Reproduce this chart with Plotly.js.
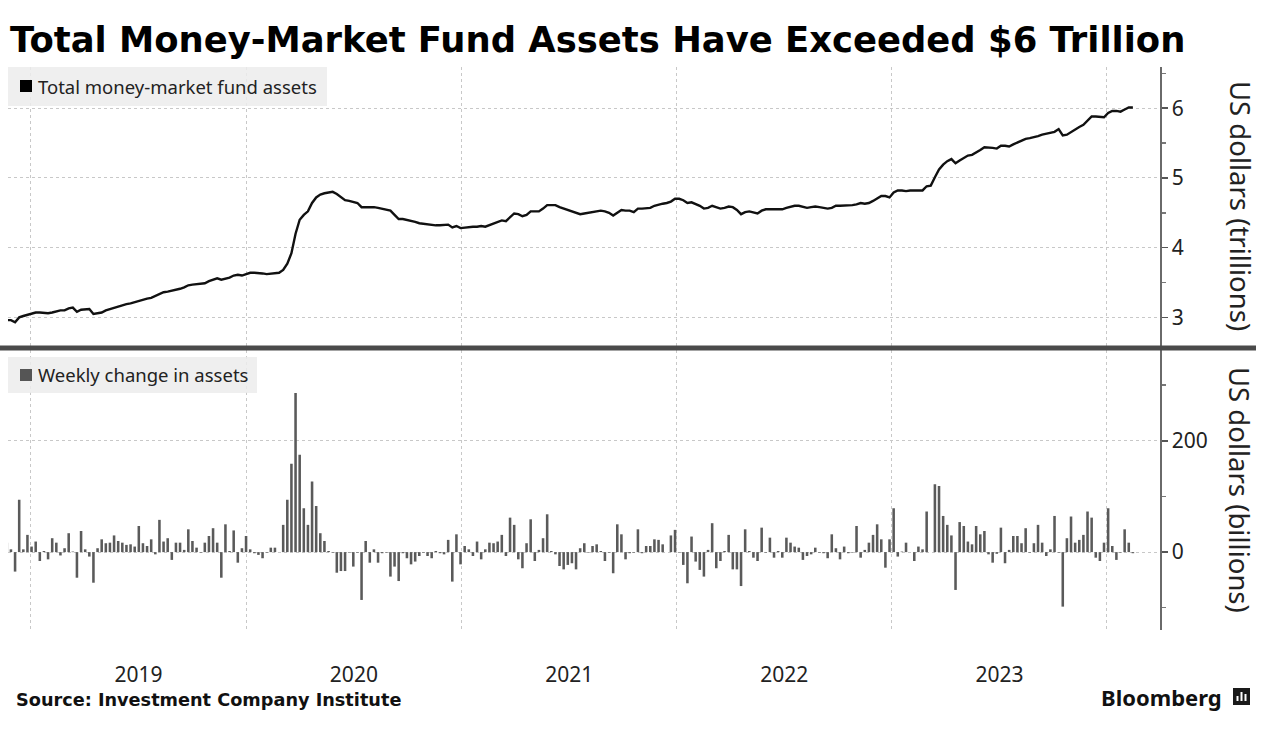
<!DOCTYPE html>
<html>
<head>
<meta charset="utf-8">
<script src="https://cdn.plot.ly/plotly-3.0.1.min.js"></script>
<style>
html,body{margin:0;padding:0;background:#ffffff;}
#chart{width:1287px;height:743px;}
</style>
</head>
<body>
<div id="chart"></div>
<script>
// ---------------- DATA ----------------
// Weekly observations (ICI, weeks ending Wednesday), first week:
const firstWeek = '2018-11-21';

// Total money-market fund assets, US$ trillions (one value per week)
const assets = [
  2.96, 2.96, 2.93, 3.00, 3.02, 3.04, 3.05, 3.07, 3.07, 3.06,
  3.06, 3.07, 3.09, 3.10, 3.10, 3.13, 3.14, 3.08, 3.11, 3.12,
  3.12, 3.05, 3.06, 3.07, 3.10, 3.12, 3.14, 3.16, 3.17, 3.19,
  3.20, 3.22, 3.24, 3.26, 3.27, 3.28, 3.31, 3.34, 3.36, 3.37,
  3.38, 3.40, 3.41, 3.43, 3.46, 3.47, 3.48, 3.48, 3.49, 3.52,
  3.54, 3.56, 3.54, 3.55, 3.57, 3.60, 3.61, 3.60, 3.62, 3.64,
  3.64, 3.64, 3.63, 3.62, 3.63, 3.63, 3.64, 3.68, 3.77, 3.92,
  4.20, 4.40, 4.47, 4.52, 4.64, 4.72, 4.76, 4.78, 4.79,
  4.80, 4.77, 4.72, 4.68, 4.67, 4.66, 4.64, 4.58, 4.58, 4.59,
  4.58, 4.57, 4.56, 4.55, 4.53, 4.47, 4.41, 4.41, 4.40, 4.38,
  4.37, 4.35, 4.34, 4.33, 4.32, 4.32, 4.32, 4.32, 4.33, 4.29,
  4.31, 4.28, 4.29, 4.29, 4.30, 4.30, 4.31, 4.30, 4.32, 4.34,
  4.36, 4.39, 4.38, 4.44, 4.49, 4.48, 4.45, 4.47, 4.52, 4.52,
  4.52, 4.56, 4.61, 4.61, 4.61, 4.58, 4.56, 4.54, 4.52, 4.49,
  4.48, 4.49, 4.50, 4.51, 4.52, 4.53, 4.52, 4.50, 4.46, 4.50,
  4.54, 4.53, 4.53, 4.51, 4.56, 4.56, 4.57, 4.57, 4.60, 4.62,
  4.63, 4.64, 4.66, 4.70, 4.70, 4.68, 4.64, 4.65, 4.63, 4.60,
  4.56, 4.57, 4.60, 4.58, 4.56, 4.57,
  4.59, 4.58, 4.54, 4.48, 4.51, 4.52, 4.51, 4.49, 4.53, 4.55,
  4.55, 4.55, 4.55, 4.55, 4.57, 4.59, 4.60, 4.60, 4.59, 4.57,
  4.58, 4.59, 4.58, 4.57, 4.56, 4.57, 4.60, 4.60, 4.60, 4.60,
  4.61, 4.62, 4.64, 4.63, 4.64, 4.67, 4.71, 4.74, 4.74, 4.72,
  4.79, 4.82, 4.82, 4.81, 4.82, 4.82, 4.82, 4.82, 4.88, 4.89,
  5.01, 5.12, 5.19, 5.24, 5.27, 5.21, 5.25, 5.29, 5.32, 5.33,
  5.36, 5.40, 5.44, 5.44, 5.43, 5.42, 5.46, 5.46, 5.45, 5.48,
  5.51, 5.53, 5.56, 5.57, 5.58, 5.60, 5.62, 5.63, 5.64, 5.66,
  5.70, 5.61, 5.62, 5.66, 5.70, 5.73, 5.76, 5.82, 5.88, 5.88,
  5.87, 5.87, 5.93, 5.96, 5.96, 5.95, 5.98, 6.01, 6.01
];

// Weekly change in assets, US$ billions (one value per week)
const weeklyChange = [
  17, 5, -35, 94, 5, 31, 10, 19, -16, 2,
  -13, 25, 17, -6, 7, 34, 1, -46, 38, 5,
  -8, -55, 7, 23, 16, 17, 30, 20, 17, 13,
  14, 10, 47, 16, 11, 23, -4, 58, 19, 25,
  -14, 17, 17, 4, 41, 20, 8, -1, 17, 29,
  43, 17, -46, 50, 2, 39, -19, 7, 29, 5,
  -2, -5, -11, -1, 8, 8, 0, 49, 94, 159,
  286, 175, 79, 49, 127, 83, 34, 20, 2, -1,
  -37, -34, -34, -1, -26, -1, -86, 20, -19, 5,
  -19, -2, -1, -44, -26, -52, -2, -11, -22, -17,
  -7, -1, -7, -11, 2, -2, -4, 22, -53, 32,
  -22, 11, 5, -7, 19, -13, 5, 17, 16, 19,
  31, -7, 62, 49, -13, -29, 16, 59, -16, 4,
  25, 68, 2, -4, -25, -31, -23, -20, -31, 7,
  16, -1, 11, 14, 2, -16, -1, -38, 50, 32,
  -13, -2, -1, 41, -2, 11, 11, 23, 22, 14,
  0, 30, 40, -1, -23, -56, 28, -17, -32, -44,
  4, 52, -29, -16, 2, 31, -31, -31, -61, 41,
  2, -10, -16, 44, -1, 26, -10, 2, -10, 26,
  17, 10, 8, -14, -7, -4, 8, -1, -2, -11,
  32, 7, -13, 10, -2, -1, 47, -10, 4, 17,
  31, 50, 23, -28, 23, 79, -8, 1, 17, 0,
  -16, 10, 5, 73, 0, 122, 119, 65, 49, 30,
  -68, 54, 47, 19, 14, 47, 32, 38, -4, -19,
  -3, 44, -20, 4, 29, 29, 16, 43, -1, 16,
  49, 17, -7, 5, 65, -1, -98, 25, 64, 17,
  22, 31, 73, 62, -10, -16, 17, 79, 11, -14,
  -1, 41, 17, -2
];

const topTicks = [3, 4, 5, 6];
const bottomTicks = [0, 200];
const seriesNames = ['Total money-market fund assets', 'Weekly change in assets'];
const titleText = 'Total Money-Market Fund Assets Have Exceeded $6 Trillion';
const sourceText = 'Source: Investment Company Institute';
const topAxisTitle = 'US dollars (trillions)';
const bottomAxisTitle = 'US dollars (billions)';

// weekly date labels for the category positions
const weekDates = assets.map((_, i) => {
  const d = new Date(Date.parse(firstWeek + 'T00:00:00Z') + i * 7 * 86400000);
  return d.toISOString().slice(0, 10);
});

// ---------------- LAYOUT HELPERS ----------------
const W = 1287, H = 743;
const M = {l: 8, r: 127, t: 67, b: 113};
const PW = W - M.l - M.r, PH = H - M.t - M.b;
const px = x => (x - M.l) / PW;
const py = y => (H - M.b - y) / PH;

const tickFont = {family: 'Noto Sans, Open Sans, sans-serif', size: 21, color: '#222'};
const gridColor = '#c8c8c8';

const traces = [
  {
    type: 'scatter', mode: 'lines', x: weekDates, y: assets,
    xaxis: 'x', yaxis: 'y', name: seriesNames[0],
    line: {color: '#111', width: 2.4}, hoverinfo: 'skip'
  },
  {
    type: 'bar', x: weekDates, y: weeklyChange,
    xaxis: 'x2', yaxis: 'y2', name: seriesNames[1],
    marker: {color: '#5a5a5a', line: {width: 0}}, hoverinfo: 'skip'
  }
];

const xRange = ['2018-11-23', '2024-03-31'];
const xCommon = {
  type: 'date', range: xRange, showgrid: true, gridcolor: gridColor, griddash: 'dot', gridwidth: 1,
  dtick: 'M12', tick0: '2019-01-01', zeroline: false, showline: false, fixedrange: true
};

const layout = {
  width: W, height: H, margin: M,
  paper_bgcolor: '#ffffff', plot_bgcolor: 'rgba(0,0,0,0)',
  showlegend: false, bargap: 0.38,
  font: {family: 'Noto Sans, sans-serif', color: '#222'},
  xaxis: Object.assign({}, xCommon, {anchor: 'y', showticklabels: false, ticks: ''}),
  xaxis2: Object.assign({}, xCommon, {
    anchor: 'y2', matches: 'x', showticklabels: true, ticklabelmode: 'period', tickformat: '%Y',
    ticks: 'outside', ticklen: 26, tickcolor: 'rgba(0,0,0,0)', tickfont: tickFont
  }),
  yaxis: {
    domain: [0.502, 1], side: 'right', anchor: 'x', range: [2.57, 6.59],
    tickvals: topTicks, ticktext: topTicks.map(String),
    showgrid: true, gridcolor: gridColor, griddash: 'dot', zeroline: false,
    showline: true, linecolor: '#6a6a6a', linewidth: 1.5,
    ticks: 'outside', ticklen: 6, tickcolor: '#555', tickwidth: 1.5, tickfont: tickFont,
    minor: {dtick: 0.5, tick0: 0, ticks: 'outside', ticklen: 4, tickcolor: '#777', showgrid: false},
    fixedrange: true
  },
  yaxis2: {
    domain: [0, 0.498], side: 'right', anchor: 'x2', range: [-140, 364],
    tickvals: bottomTicks, ticktext: bottomTicks.map(String),
    showgrid: true, gridcolor: gridColor, griddash: 'dot', zeroline: false,
    showline: true, linecolor: '#6a6a6a', linewidth: 1.5,
    ticks: 'outside', ticklen: 6, tickcolor: '#555', tickwidth: 1.5, tickfont: tickFont,
    minor: {dtick: 100, tick0: 0, ticks: 'outside', ticklen: 4, tickcolor: '#777', showgrid: false},
    fixedrange: true
  },
  shapes: [
    // legend boxes
    {type: 'rect', xref: 'paper', yref: 'paper', x0: px(8), x1: px(327), y0: py(106), y1: py(67),
     fillcolor: 'rgba(236,236,236,0.85)', line: {width: 0}, layer: 'above'},
    {type: 'rect', xref: 'paper', yref: 'paper', x0: px(20), x1: px(32), y0: py(92), y1: py(80),
     fillcolor: '#000', line: {width: 0}, layer: 'above'},
    {type: 'rect', xref: 'paper', yref: 'paper', x0: px(8), x1: px(257), y0: py(393), y1: py(357),
     fillcolor: 'rgba(236,236,236,0.85)', line: {width: 0}, layer: 'above'},
    {type: 'rect', xref: 'paper', yref: 'paper', x0: px(20), x1: px(32), y0: py(381), y1: py(369),
     fillcolor: '#555', line: {width: 0}, layer: 'above'},
    // panel divider
    {type: 'line', xref: 'paper', yref: 'paper', x0: px(0), x1: px(1256), y0: py(348), y1: py(348),
     line: {color: '#4a4a4a', width: 5}, layer: 'above'},
    // Bloomberg mark
    {type: 'rect', xref: 'paper', yref: 'paper', x0: px(1233), x1: px(1250), y0: py(705), y1: py(688),
     fillcolor: '#1a1a1a', line: {width: 0}},
    {type: 'line', xref: 'paper', yref: 'paper', x0: px(1237.5), x1: px(1237.5), y0: py(701), y1: py(696),
     line: {color: '#fff', width: 2}},
    {type: 'line', xref: 'paper', yref: 'paper', x0: px(1241.5), x1: px(1241.5), y0: py(701), y1: py(692),
     line: {color: '#fff', width: 2}},
    {type: 'line', xref: 'paper', yref: 'paper', x0: px(1245.5), x1: px(1245.5), y0: py(701), y1: py(694),
     line: {color: '#fff', width: 2}}
  ],
  annotations: [
    {text: titleText, xref: 'paper', yref: 'paper', x: px(8), y: py(39), xanchor: 'left', yanchor: 'middle',
     showarrow: false, font: {family: 'DejaVu Sans, sans-serif', size: 35.4, color: '#000', weight: 'bold'}},
    {text: seriesNames[0], xref: 'paper', yref: 'paper', x: px(36), y: py(87), xanchor: 'left', yanchor: 'middle',
     showarrow: false, font: {family: 'Noto Sans, sans-serif', size: 18.5, color: '#222'}},
    {text: seriesNames[1], xref: 'paper', yref: 'paper', x: px(36), y: py(375), xanchor: 'left', yanchor: 'middle',
     showarrow: false, font: {family: 'Noto Sans, sans-serif', size: 18.5, color: '#222'}},
    {text: topAxisTitle, xref: 'paper', yref: 'paper', x: px(1240), y: py(206), xanchor: 'center', yanchor: 'middle',
     textangle: 90, showarrow: false, font: {family: 'Noto Sans, sans-serif', size: 27.5, color: '#222'}},
    {text: bottomAxisTitle, xref: 'paper', yref: 'paper', x: px(1240), y: py(490), xanchor: 'center', yanchor: 'middle',
     textangle: 90, showarrow: false, font: {family: 'Noto Sans, sans-serif', size: 27.5, color: '#222'}},
    {text: sourceText, xref: 'paper', yref: 'paper', x: px(14), y: py(700), xanchor: 'left', yanchor: 'middle',
     showarrow: false, font: {family: 'DejaVu Sans, sans-serif', size: 17.7, color: '#111', weight: 'bold'}},
    {text: 'Bloomberg', xref: 'paper', yref: 'paper', x: px(1224), y: py(697), xanchor: 'right', yanchor: 'middle',
     showarrow: false, font: {family: 'Noto Sans, sans-serif', size: 22, color: '#111', weight: 'bold'}}
  ]
};

Plotly.newPlot('chart', traces, layout, {staticPlot: true, displayModeBar: false});
</script>
</body>
</html>
